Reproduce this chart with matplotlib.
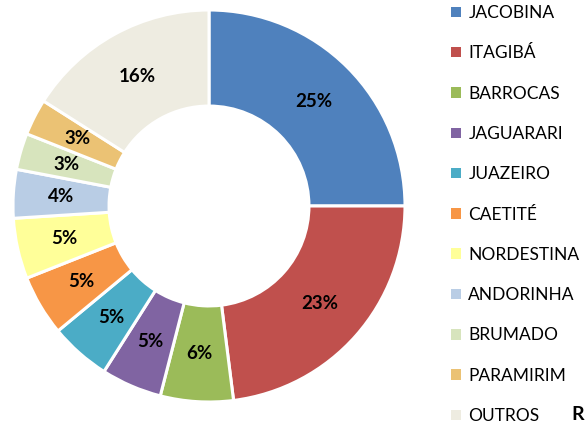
import numpy as np
import matplotlib.pyplot as plt
from matplotlib.patches import Patch

plt.rcParams['font.family'] = ['Lato', 'DejaVu Sans']

# data
names = ['JACOBINA', 'ITAGIBÁ', 'BARROCAS', 'JAGUARARI', 'JUAZEIRO', 'CAETITÉ',
         'NORDESTINA', 'ANDORINHA', 'BRUMADO', 'PARAMIRIM', 'OUTROS']
shares = [25, 23, 6, 5, 5, 5, 5, 4, 3, 3, 16]
colors = ['#4F81BD', '#C0504D', '#9BBB59', '#8064A2', '#4BACC6', '#F79646',
          '#FFFF99', '#B9CDE5', '#D7E4BD', '#EBC274', '#EEECE1']

fig = plt.figure(figsize=(5.85, 4.25), dpi=100)
ax = fig.add_axes([13/585, 23/425, 392/585, 392/425])

wedges, _ = ax.pie(shares, colors=colors, startangle=90, counterclock=False,
                   radius=1.0, wedgeprops=dict(width=0.49, edgecolor='white', linewidth=2.2))

# percentage labels in the middle of the ring
ang0 = 90.0
tot = float(sum(shares))
for v in shares:
    mid = np.deg2rad(ang0 - 360.0 * v / tot / 2)
    ax.text(0.755 * np.cos(mid), 0.755 * np.sin(mid), '{}%'.format(v),
            ha='center', va='center', fontsize=13.5, fontweight='bold', color='black')
    ang0 -= 360.0 * v / tot
ax.set_xlim(-1, 1)
ax.set_ylim(-1, 1)
ax.set_aspect('equal')
ax.axis('off')

handles = [Patch(facecolor=c, edgecolor='none') for c in colors]
fig.legend(handles, names, loc='upper left', bbox_to_anchor=(451/585, 1 - 5/425),
           frameon=False, fontsize=12.5, handlelength=0.55, handleheight=0.55,
           handletextpad=0.45, labelspacing=1.4, borderaxespad=0, borderpad=0)

fig.text(571/585, 1 - 414/425, 'R', fontsize=14, fontweight='bold', va='center', ha='left')

plt.savefig('out.png', dpi=100)
plt.close()
